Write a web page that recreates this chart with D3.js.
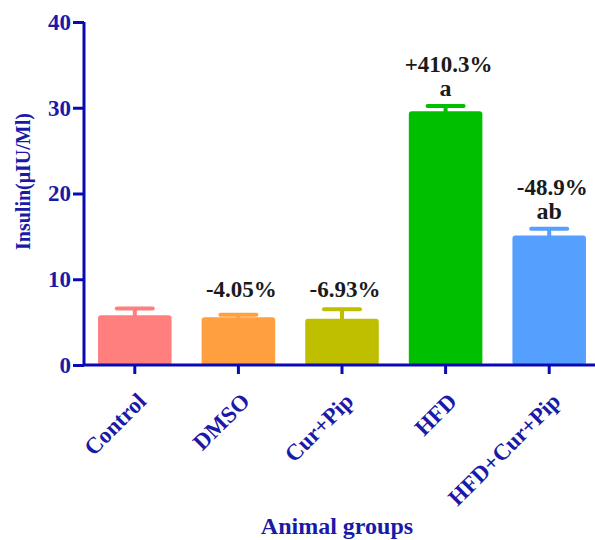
<!DOCTYPE html>
<html>
<head>
<meta charset="utf-8">
<script src="https://cdn.jsdelivr.net/npm/d3@7"></script>
<style>
  html, body { margin: 0; padding: 0; background: #fff; }
  svg { display: block; }
</style>
</head>
<body>
<div id="chart"></div>
<script>
// Serum insulin by animal group (mean with upper SEM bar)
const groups = ["Control", "DMSO", "Cur+Pip", "HFD", "HFD+Cur+Pip"];
const insulin = [5.8, 5.57, 5.4, 29.6, 15.1];
const sem = [0.8, 0.3, 1.1, 0.6, 0.8];
const changeLabels = ["", "-4.05%", "-6.93%", "+410.3%", "-48.9%"];
const sigLabels = ["", "", "", "a", "ab"];
const barColors = ["#FF7F7F", "#FF9F3F", "#BFBF00", "#00BF00", "#55A0FF"];
const yTicks = [0, 10, 20, 30, 40];

const W = 595, H = 540;
const axisColor = "#0A0AB4";
const labelColor = "#1A1AA8";
const font = "'Liberation Serif', 'Times New Roman', serif";

const svg = d3.select("#chart").append("svg")
  .attr("width", W).attr("height", H);

const x = d3.scaleBand()
  .domain(groups)
  .range([83, 601])
  .paddingInner(0.29)
  .paddingOuter(0.145);

const y = d3.scaleLinear()
  .domain([0, 40])
  .range([365, 22]);

const rows = groups.map((g, i) => ({
  g, v: insulin[i], e: sem[i], c: barColors[i],
  pct: changeLabels[i], sig: sigLabels[i]
}));

// Bars
svg.append("g").selectAll("rect")
  .data(rows)
  .join("rect")
  .attr("x", d => x(d.g))
  .attr("y", d => y(d.v))
  .attr("width", x.bandwidth())
  .attr("height", d => y(0) - y(d.v))
  .attr("rx", 3)
  .attr("fill", d => d.c);

// Upper error bars
const err = svg.append("g");
rows.forEach(d => {
  const cx = x(d.g) + x.bandwidth() / 2;
  err.append("line")
    .attr("x1", cx).attr("x2", cx)
    .attr("y1", y(d.v) + 2).attr("y2", y(d.v + d.e))
    .attr("stroke", d.c).attr("stroke-width", 4);
  err.append("line")
    .attr("x1", cx - 18).attr("x2", cx + 18)
    .attr("y1", y(d.v + d.e)).attr("y2", y(d.v + d.e))
    .attr("stroke", d.c).attr("stroke-width", 4)
    .attr("stroke-linecap", "round");
});

// Y axis
const yAxis = svg.append("g")
  .attr("transform", "translate(84,0)")
  .call(d3.axisLeft(y).tickValues(yTicks).tickSize(11).tickPadding(2));
yAxis.select(".domain").attr("stroke", axisColor).attr("stroke-width", 3)
  .attr("d", `M0,${y(40)}V${y(0)}`);
yAxis.selectAll(".tick line").attr("stroke", axisColor).attr("stroke-width", 3);
yAxis.selectAll(".tick text")
  .attr("fill", labelColor)
  .style("font-family", font).style("font-weight", "bold").style("font-size", "23px");

// X axis
const xAxis = svg.append("g")
  .attr("transform", `translate(0,${y(0)})`)
  .call(d3.axisBottom(x).tickSize(9).tickPadding(8));
xAxis.select(".domain").attr("stroke", axisColor).attr("stroke-width", 3)
  .attr("d", `M83,0H600`);
xAxis.selectAll(".tick line").attr("stroke", axisColor).attr("stroke-width", 3);
xAxis.selectAll(".tick text")
  .attr("fill", labelColor)
  .style("font-family", font).style("font-weight", "bold").style("font-size", "23px")
  .attr("text-anchor", "end")
  .attr("dy", "0.35em")
  .attr("transform", "translate(-5,20) rotate(-45)");

// Axis titles
svg.append("text")
  .attr("transform", `translate(30,${(y(0) + y(40)) / 2 - 12}) rotate(-90)`)
  .attr("text-anchor", "middle")
  .attr("fill", labelColor)
  .style("font-family", font).style("font-weight", "bold").style("font-size", "20px")
  .text("Insulin(\u03BCIU/Ml)");

svg.append("text")
  .attr("x", 337).attr("y", 534)
  .attr("text-anchor", "middle")
  .attr("fill", labelColor)
  .style("font-family", font).style("font-weight", "bold").style("font-size", "24px")
  .text("Animal groups");

// Change and significance annotations
const ann = svg.append("g")
  .style("font-family", font).style("font-weight", "bold")
  .attr("fill", "#1a1a1a").attr("text-anchor", "middle");
const pctOnly = rows.filter(d => d.pct && !d.sig);
const pctBase = d3.min(pctOnly, d => y(d.v + d.e)) - 12;
rows.forEach(d => {
  const cx = x(d.g) + x.bandwidth() / 2;
  const top = y(d.v + d.e);
  if (d.sig) {
    ann.append("text").attr("x", cx).attr("y", top - 10)
      .style("font-size", "24px").text(d.sig);
    ann.append("text").attr("x", cx + 3).attr("y", top - 34)
      .style("font-size", "23px").text(d.pct);
  } else if (d.pct) {
    ann.append("text").attr("x", cx + 3).attr("y", pctBase)
      .style("font-size", "23px").text(d.pct);
  }
});
</script>
</body>
</html>
